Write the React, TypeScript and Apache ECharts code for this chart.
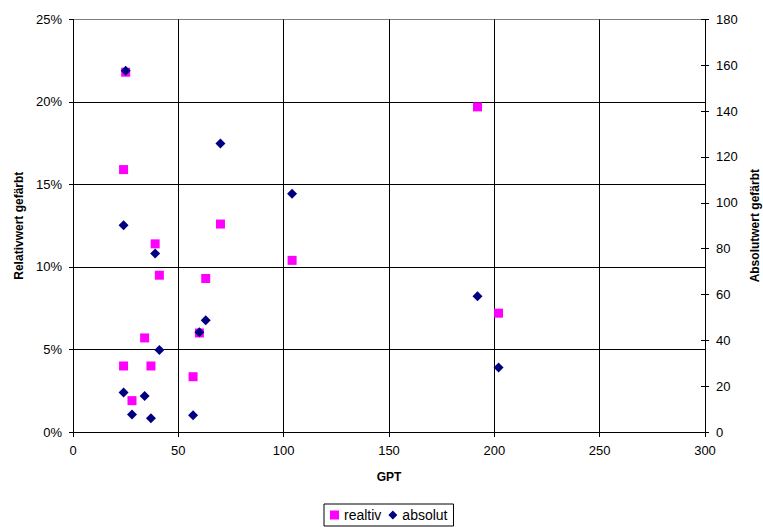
import React, { useEffect, useRef } from "react";
import * as echarts from "echarts";

const gpt = [25, 24, 70, 39, 41, 63, 104, 34, 60, 24, 37, 57, 28, 192, 202];
const realtiv = [21.8, 15.9, 12.6, 11.4, 9.5, 9.3, 10.4, 5.7, 6.0, 4.0, 4.0, 3.35, 1.9, 19.7, 7.2];
const absolut = [157.6, 90.2, 125.9, 77.9, 35.8, 48.8, 103.9, 15.7, 43.5, 17.2, 6.0, 7.3, 7.6, 59.2, 28.1];

const FONT = "'Liberation Sans', Arial, sans-serif";

export default function App() {
  const ref = useRef<HTMLDivElement>(null);
  useEffect(() => {
    if (!ref.current) return;
    const chart = echarts.init(ref.current, undefined, { renderer: "svg" });
    const axisLine = { show: true, lineStyle: { color: "#000", width: 1 } };
    const labelStyle = { color: "#000", fontFamily: FONT, fontSize: 13 };
    const nameStyle = { color: "#000", fontFamily: FONT, fontSize: 12, fontWeight: "bold" };
    chart.setOption({
      animation: false,
      backgroundColor: "#fff",
      textStyle: { fontFamily: FONT },
      grid: { left: 73, right: 58, top: 19.4, bottom: 95, containLabel: false, outerBoundsMode: "none" },
      legend: {
        bottom: 1,
        left: 324,
        orient: "horizontal",
        borderColor: "#000",
        borderWidth: 1,
        borderRadius: 0,
        padding: [4, 6, 4, 6],
        itemGap: 7,
        itemWidth: 9,
        itemHeight: 9,
        textStyle: { color: "#000", fontFamily: FONT, fontSize: 14 },
        data: [
          { name: "realtiv", icon: "rect" },
          { name: "absolut", icon: "diamond" },
        ],
      },
      xAxis: {
        type: "value",
        min: 0,
        max: 300,
        interval: 50,
        name: "GPT",
        nameLocation: "middle",
        nameGap: 39,
        nameTextStyle: nameStyle,
        axisLine,
        axisTick: { show: true, length: 5, lineStyle: { color: "#000" } },
        axisLabel: { ...labelStyle, margin: 12 },
        splitLine: { show: true, lineStyle: { color: "#000", width: 1 } },
      },
      yAxis: [
        {
          type: "value",
          min: 0,
          max: 25,
          interval: 5,
          name: "Relativwert gefärbt",
          nameLocation: "middle",
          nameGap: 48,
          nameRotate: 90,
          nameTextStyle: nameStyle,
          axisLine,
          axisTick: { show: true, length: 4, lineStyle: { color: "#000" } },
          axisLabel: { ...labelStyle, margin: 11, formatter: "{value}%" },
          splitLine: {
            show: true,
            lineStyle: { color: ["#000", "#000", "#000", "#000", "#000", "#808080"], width: 1 },
          },
        },
        {
          type: "value",
          position: "right",
          min: 0,
          max: 180,
          interval: 20,
          name: "Absolutwert gefärbt",
          nameLocation: "middle",
          nameGap: 42,
          nameRotate: 90,
          nameTextStyle: nameStyle,
          axisLine,
          axisTick: { show: true, length: 4, lineStyle: { color: "#000" } },
          axisLabel: { ...labelStyle, margin: 11 },
          splitLine: { show: false },
        },
        {
          type: "value",
          position: "right",
          min: 0,
          max: 180,
          interval: 20,
          axisLine: { show: false },
          axisTick: { show: true, inside: true, length: 4, lineStyle: { color: "#000" } },
          axisLabel: { show: false },
          splitLine: { show: false },
        },
      ],
      series: [
        {
          name: "realtiv",
          type: "scatter",
          yAxisIndex: 0,
          symbol: "rect",
          symbolSize: 9,
          itemStyle: { color: "#FF00FF", opacity: 1 },
          data: gpt.map((x, i) => [x, realtiv[i]]),
        },
        {
          name: "absolut",
          type: "scatter",
          yAxisIndex: 1,
          symbol: "diamond",
          symbolSize: 10,
          itemStyle: { color: "#000080", opacity: 1 },
          data: gpt.map((x, i) => [x, absolut[i]]),
        },
      ],
    });
    return () => chart.dispose();
  }, []);
  return <div ref={ref} style={{ width: 763, height: 527, position: "absolute", left: 0, top: 0 }} />;
}
